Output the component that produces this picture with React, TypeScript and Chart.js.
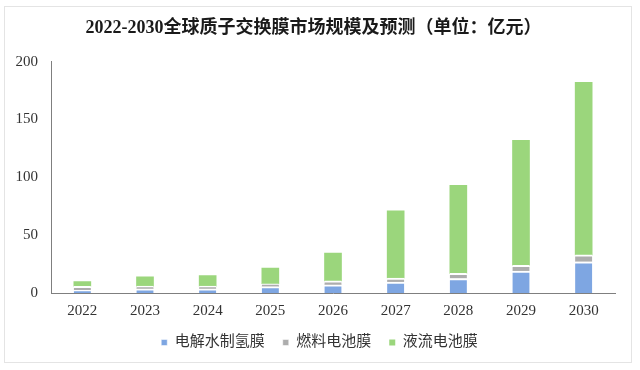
import React, { useEffect, useRef } from "react";
import { Chart, registerables } from "chart.js";

Chart.register(...registerables);

const categories = ["2022", "2023", "2024", "2025", "2026", "2027", "2028", "2029", "2030"];
const electrolysisMembrane = [2.3, 3.5, 3.5, 5.5, 7, 9.5, 12.5, 19, 27];
const fuelCellMembrane = [3.5, 2.5, 2.5, 2.5, 3.5, 3.5, 4.5, 5, 6];
const flowBatteryMembrane = [4, 8, 9, 13.5, 24, 58, 76, 108, 149];
const seriesNames = ["电解水制氢膜", "燃料电池膜", "液流电池膜"];
const yTicks = [0, 50, 100, 150, 200];
const titleText = "2022-2030全球质子交换膜市场规模及预测（单位：亿元）";

const latinCjk = "'Liberation Serif', 'Noto Sans CJK SC', serif";

const shiftLegend = {
  id: "shiftLegend",
  afterLayout(chart: any) {
    if (chart.legend) {
      chart.legend.left += 6;
      chart.legend.right += 6;
    }
  },
};

export default function App() {
  const ref = useRef<HTMLCanvasElement | null>(null);

  useEffect(() => {
    document.body.style.margin = "0";
    const canvas = ref.current;
    if (!canvas) return;
    const chart = new Chart(canvas, {
      type: "bar",
      data: {
        labels: categories,
        datasets: [
          {
            label: seriesNames[0],
            data: electrolysisMembrane,
            backgroundColor: "#7ea6e2",
            borderColor: "#ffffff",
            borderWidth: { top: 2, left: 0, right: 0, bottom: 0 },
            barThickness: 17,
          },
          {
            label: seriesNames[1],
            data: fuelCellMembrane,
            backgroundColor: "#adadad",
            borderColor: "#ffffff",
            borderWidth: { top: 2, left: 0, right: 0, bottom: 0 },
            barThickness: 17,
          },
          {
            label: seriesNames[2],
            data: flowBatteryMembrane,
            backgroundColor: "#9bd67c",
            borderWidth: 0,
            barThickness: 17,
          },
        ],
      },
      options: {
        animation: false,
        responsive: false,
        layout: { padding: { left: 12, right: 25, top: 0, bottom: 10 } },
        plugins: {
          title: {
            display: true,
            text: titleText,
            color: "#1a1a1a",
            font: { family: latinCjk, size: 18, weight: "bold" },
            padding: { top: 18, bottom: 22 },
          },
          legend: {
            position: "bottom",
            labels: {
              boxWidth: 6,
              boxHeight: 6,
              padding: 18,
              color: "#333333",
              font: { family: latinCjk, size: 15 },
            },
          },
          tooltip: { enabled: false },
        },
        scales: {
          x: {
            stacked: true,
            grid: { display: false },
            border: { display: true, color: "#7f7f7f", width: 1 },
            ticks: { color: "#333333", font: { family: latinCjk, size: 15 }, padding: 1 },
            afterFit: (s: any) => {
              s.height = 24;
            },
          },
          y: {
            stacked: true,
            min: 0,
            max: 200,
            afterBuildTicks: (s: any) => {
              s.ticks = yTicks.map((v) => ({ value: v }));
            },
            grid: { display: false },
            border: { display: true, color: "#7f7f7f", width: 1 },
            ticks: { color: "#333333", font: { family: latinCjk, size: 15 }, padding: 5 },
            afterFit: (s: any) => {
              s.width = 39;
            },
          },
        },
      },
      plugins: [shiftLegend],
    });
    return () => chart.destroy();
  }, []);

  return (
    <div style={{ position: "relative", width: 640, height: 370, background: "#ffffff" }}>
      <div
        style={{
          position: "absolute",
          left: 4,
          top: 6,
          width: 628,
          height: 357,
          border: "1px solid #e4e4e4",
          boxSizing: "border-box",
        }}
      />
      <canvas ref={ref} width={640} height={370} style={{ position: "absolute", left: 0, top: 0 }} />
    </div>
  );
}
